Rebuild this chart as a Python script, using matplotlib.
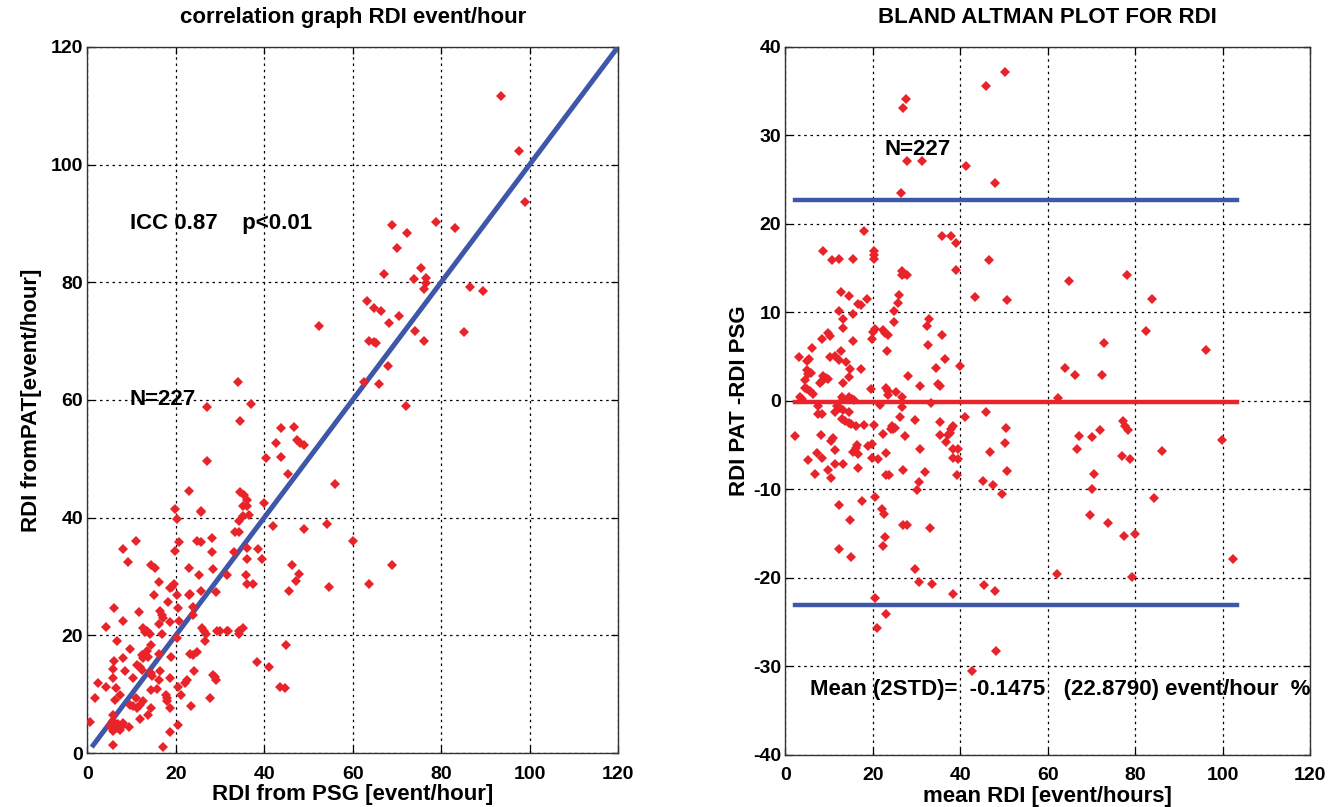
import matplotlib
matplotlib.use("Agg")
import matplotlib.pyplot as plt
import numpy as np

plt.rcParams['font.family'] = ['Liberation Sans', 'DejaVu Sans']
plt.rcParams['font.weight'] = 'bold'
plt.rcParams['axes.unicode_minus'] = False

# ---------------- data: correlation graph ----------------
psg = [23.1, 19.9, 20.2, 25.7, 34.6, 35.5, 36.2, 35.1, 36.2, 39.9, 36.5, 35.3, 34.2, 42.1, 33.3, 34.4,
       11.1, 8.1, 9.3, 20.8, 19.9, 24.9, 25.7, 28.1, 28.3, 33.1, 36.2, 38.7, 39.6, 36.0, 14.5, 15.2,
       22.9, 28.5, 25.3, 31.5, 35.8, 16.1, 36.2, 37.4, 19.5, 19.2, 18.8, 15.0, 20.2, 22.9, 23.3, 25.6,
       29.2, 18.2, 20.4, 24.0, 6.1, 11.8, 16.5, 17.0, 17.2, 8.1, 16.1, 18.8, 20.8, 23.8, 4.3, 12.7,
       13.5, 13.1, 14.1, 17.0, 20.3, 26.0, 26.3, 26.9, 29.4, 30.1, 31.5, 31.9, 34.4, 35.1, 34.2, 26.5,
       6.8, 14.5, 9.7, 13.5, 12.4, 12.7, 13.8, 16.3, 19.0, 23.3, 24.0, 24.7, 6.1, 8.1, 11.3, 12.0,
       12.4, 38.3, 41.0, 5.9, 8.6, 14.3, 14.7, 16.5, 16.1, 18.8, 24.2, 10.4, 5.7, 28.5, 28.8, 29.0,
       22.6, 22.2, 2.5, 4.3, 6.6, 14.5, 15.8, 20.4, 43.5, 44.8, 7.5, 10.9, 9.7, 10.4, 1.8, 6.3,
       12.7, 12.0, 11.3, 17.7, 18.1, 18.1, 14.3, 21.1, 27.8, 18.8, 23.5, 13.8, 12.0, 5.9, 5.7, 6.3,
       7.0, 7.5, 6.8, 5.2, 5.9, 7.9, 8.1, 9.5, 0.5, 20.4, 18.8, 5.7, 17.2,
       34.1, 27.1, 37.1, 34.6, 43.9, 46.7, 42.6, 47.5, 48.2, 48.9, 40.3, 43.9, 27.1, 45.3, 56.1, 25.6,
       49.1, 54.3, 60.0, 68.8, 46.2, 47.8, 47.3, 45.5, 54.6, 63.8, 45.0,
       93.5, 97.6, 98.9, 69.0, 78.8, 83.1, 72.4, 70.0, 67.0, 75.4, 73.8, 76.7, 76.5, 76.1, 86.5, 89.4,
       63.2, 64.8, 66.3, 70.4, 68.2, 74.0, 85.1, 76.1, 63.8, 64.8, 65.2, 67.9, 62.5, 65.9, 72.0, 52.4]
pat = [44.6, 41.4, 39.8, 41.2, 44.4, 43.8, 43.0, 42.0, 41.9, 42.5, 40.5, 40.2, 39.5, 38.6, 37.6, 37.5,
       36.1, 34.6, 32.5, 35.8, 34.4, 36.1, 35.9, 36.6, 34.2, 34.2, 34.9, 34.6, 32.9, 33.0, 31.9, 31.5,
       31.5, 31.2, 30.2, 30.3, 30.2, 29.1, 28.8, 28.7, 28.8, 28.3, 28.0, 26.8, 26.8, 26.8, 27.1, 27.6,
       27.3, 25.6, 24.7, 24.9, 24.6, 23.9, 24.1, 23.4, 22.9, 22.4, 22.0, 22.2, 22.5, 23.4, 21.5, 21.3,
       20.8, 20.5, 20.3, 20.3, 19.6, 21.2, 20.7, 20.2, 20.8, 20.7, 20.7, 20.7, 20.8, 21.3, 20.2, 19.0,
       19.0, 18.3, 17.6, 17.3, 16.6, 16.1, 16.4, 16.8, 16.3, 16.9, 16.6, 17.1, 15.6, 16.1, 14.9, 14.7,
       14.1, 15.4, 14.7, 14.2, 13.9, 13.6, 13.1, 13.9, 12.4, 12.7, 13.9, 12.7, 12.7, 13.2, 12.9, 12.4,
       12.4, 11.9, 11.9, 11.2, 11.0, 10.7, 10.8, 11.2, 11.2, 11.0, 9.8, 9.3, 8.1, 8.0, 9.3, 9.0,
       8.8, 8.1, 7.6, 9.8, 9.3, 8.8, 7.6, 9.8, 9.3, 7.6, 8.0, 6.4, 5.8, 6.4, 5.4, 4.7,
       4.9, 3.9, 4.2, 4.6, 3.7, 4.6, 5.1, 4.4, 5.3, 4.7, 3.6, 1.4, 1.0,
       63.1, 58.8, 59.3, 56.4, 55.2, 55.4, 52.7, 53.2, 52.7, 52.4, 50.2, 50.3, 49.7, 47.5, 45.8, 41.0,
       38.1, 39.0, 36.1, 31.9, 32.0, 30.5, 29.2, 27.6, 28.3, 28.8, 18.3,
       111.7, 102.4, 93.7, 89.7, 90.2, 89.3, 88.3, 85.8, 81.4, 82.5, 80.5, 80.7, 79.8, 78.8, 79.2, 78.6,
       76.8, 75.6, 75.1, 74.2, 73.1, 71.7, 71.5, 70.0, 70.0, 69.8, 69.7, 65.8, 63.0, 62.7, 59.0, 72.5]
fit_x = [1.0, 120.0]          # identity line end points
fit_y = [1.0, 120.0]

# ---------------- data: Bland-Altman ----------------
mean_rdi = [50.2, 46.0, 27.6, 27.0, 27.8, 31.3, 41.3, 48.0, 26.5, 18.1, 35.9, 37.8, 39.0, 8.7, 10.8, 12.3,
            15.4, 20.3, 20.4, 20.3, 46.5, 26.8, 27.2, 27.8, 26.6, 39.0, 12.7, 14.5, 26.0, 43.5, 18.6, 50.6,
            16.7, 17.3, 25.7, 12.4, 24.9, 13.3, 15.4, 24.9, 32.8, 13.3, 32.5, 20.5, 20.0, 19.8, 22.3, 22.8,
            23.4, 9.7, 10.3, 35.9, 8.4, 15.4, 6.1, 32.7, 12.8, 23.2, 3.2, 10.3, 11.3, 5.0, 5.5, 12.2,
            13.9, 36.5, 40.0, 5.0, 5.9, 5.3, 14.8, 17.3, 34.5, 28.0, 8.7, 9.4, 9.9, 4.6, 14.7, 8.4,
            8.0, 13.3, 30.8, 35.0, 35.5, 4.6, 5.0, 5.7, 6.3, 19.6, 23.0, 23.4, 23.6, 25.3, 3.4, 3.8,
            12.9, 13.3, 15.2, 15.8, 14.5, 26.6, 33.3, 21.7, 7.6, 11.8, 12.6, 13.3, 26.6, 7.4, 8.4, 11.3,
            14.5, 41.1, 46.0, 26.3, 12.9, 13.7, 14.5, 15.1, 16.1, 18.0, 20.4, 29.7, 35.5, 24.4, 24.7, 25.1,
            24.1, 38.4, 38.0, 37.7, 37.3, 50.5, 2.3, 8.2, 22.4, 27.4, 35.4, 10.9, 10.4, 36.8, 50.2, 16.5,
            16.2, 19.0, 19.8, 11.4, 30.8, 38.4, 39.6, 15.6, 16.7, 7.2, 23.1, 46.8, 19.9, 21.3, 38.4, 39.6,
            8.4, 5.2, 11.4, 13.3, 16.7, 9.7, 26.9, 32.0, 6.8, 23.1, 23.8, 39.3, 10.4, 30.6, 30.2, 45.3,
            47.6, 49.5, 20.5, 12.4, 17.5, 22.1, 22.6, 14.9, 26.9, 27.8, 33.1, 22.8, 22.4, 12.4, 15.1, 29.7,
            30.6, 33.6, 38.4, 45.5, 48.0, 20.5, 23.1, 20.9, 48.2, 42.8, 50.8,
            64.9, 78.2, 83.8, 82.4, 72.8, 96.2, 64.0, 66.2, 72.5, 62.3, 77.3, 77.7, 78.4, 72.0, 70.2, 67.2,
            66.6, 99.9, 86.1, 77.1, 78.8, 70.6, 70.1, 84.3, 69.7, 73.9, 77.5, 80.0, 102.4, 62.1, 79.2]
diff_rdi = [37.2, 35.6, 34.1, 33.1, 27.1, 27.1, 26.6, 24.6, 23.5, 19.2, 18.6, 18.6, 17.8, 16.9, 15.9, 16.0,
            16.0, 16.9, 16.5, 16.0, 15.9, 14.7, 14.4, 14.2, 14.2, 14.8, 12.3, 11.9, 12.0, 11.8, 11.5, 11.4,
            11.0, 10.8, 11.1, 10.2, 10.2, 9.3, 9.8, 8.9, 9.3, 8.2, 8.5, 8.1, 7.8, 7.0, 8.0, 7.7,
            7.4, 7.7, 7.3, 7.4, 7.0, 6.8, 6.0, 6.3, 5.6, 5.6, 5.0, 5.0, 5.1, 4.5, 4.7, 4.6,
            4.4, 4.7, 4.0, 3.5, 3.2, 3.0, 3.6, 3.6, 3.7, 2.8, 2.8, 2.6, 2.5, 2.4, 2.7, 2.2,
            2.0, 2.0, 1.7, 1.9, 1.7, 1.5, 1.3, 1.1, 0.8, 1.3, 1.5, 1.1, 0.7, 1.0, 0.4, 0.2,
            0.5, 0.2, 0.2, 0.1, 0.4, 0.4, -0.2, -0.5, -0.6, -0.6, -0.8, -1.0, -0.7, -1.5, -1.5, -1.3,
            -1.3, -1.8, -1.3, -1.8, -2.0, -2.3, -2.5, -2.6, -2.8, -2.7, -2.7, -2.2, -2.4, -2.8, -3.2, -3.0,
            -3.2, -2.8, -3.2, -3.6, -3.8, -3.0, -4.0, -3.8, -3.7, -4.0, -3.8, -4.2, -4.5, -4.6, -4.7, -5.0,
            -5.3, -5.1, -4.9, -5.5, -5.4, -5.4, -5.4, -5.8, -6.0, -5.9, -5.9, -5.8, -6.4, -6.6, -6.4, -6.6,
            -6.5, -6.7, -7.1, -7.1, -7.6, -7.8, -7.8, -8.0, -8.3, -8.4, -8.4, -8.4, -8.7, -9.2, -10.1, -9.1,
            -9.5, -10.5, -10.9, -11.7, -11.3, -12.2, -12.8, -13.4, -14.0, -14.0, -14.4, -15.4, -16.4, -16.7, -17.6, -19.0,
            -20.5, -20.7, -21.8, -20.8, -21.5, -22.3, -24.1, -25.7, -28.2, -30.5, -7.9,
            13.5, 14.2, 11.5, 7.9, 6.5, 5.8, 3.7, 2.9, 2.9, 0.3, -2.3, -2.8, -3.3, -3.3, -4.1, -4.0,
            -5.4, -4.4, -5.6, -6.2, -6.6, -8.2, -10.0, -11.0, -12.9, -13.8, -15.3, -15.0, -17.9, -19.6, -19.9]
mean_diff = -0.1475
two_std = 22.8790

ticks_left = [0, 20, 40, 60, 80, 100, 120]
ticks_right_x = [0, 20, 40, 60, 80, 100, 120]
ticks_right_y = [-40, -30, -20, -10, 0, 10, 20, 30, 40]

RED = '#E8232A'
BLUE = '#3F57A8'
FS_TICK = 14
FS = 16

fig = plt.figure(figsize=(13.33, 8.07), dpi=100)
ax1 = fig.add_axes([0.0655, 0.0669, 0.3981, 0.8749])
ax2 = fig.add_axes([0.589, 0.0645, 0.3939, 0.8773])

def style(ax):
    ax.grid(True, color='black', linestyle=(0, (2, 3)), linewidth=0.9)
    ax.set_axisbelow(True)
    ax.tick_params(direction='in', length=5, width=0.9, top=True, right=True,
                   labelsize=FS_TICK, pad=3)
    ax.tick_params(axis='x', pad=9)
    for lab in ax.get_xticklabels() + ax.get_yticklabels():
        lab.set_fontweight('bold')
    for s in ax.spines.values():
        s.set_linewidth(1.0)
        s.set_color('#333333')

# Left: correlation
ax1.plot(fit_x, fit_y, color=BLUE, linewidth=3.6, solid_capstyle='butt', zorder=3)
ax1.plot(psg, pat, linestyle='none', marker='D', markersize=4.8, color=RED,
         markeredgewidth=0, zorder=4)
ax1.set_xlim(0, 120)
ax1.set_ylim(0, 120)
ax1.set_xticks(ticks_left)
ax1.set_yticks(ticks_left)
style(ax1)
ax1.set_title('correlation graph RDI event/hour', fontsize=FS, fontweight='bold', pad=17)
ax1.set_xlabel('RDI from PSG [event/hour]', fontsize=FS, fontweight='bold', labelpad=1)
ax1.set_ylabel('RDI fromPAT[event/hour]', fontsize=FS, fontweight='bold', labelpad=6)
ax1.text(9.6, 90, 'ICC 0.87    p<0.01', fontsize=FS, fontweight='bold', va='center')
ax1.text(9.6, 60, 'N=227', fontsize=FS, fontweight='bold', va='center')

# Right: Bland-Altman
x0, x1 = min(mean_rdi), max(mean_rdi) + 0.8
ax2.plot([x0, x1], [mean_diff + two_std] * 2, color=BLUE, linewidth=3.2, zorder=3)
ax2.plot([x0, x1], [mean_diff - two_std] * 2, color=BLUE, linewidth=3.2, zorder=3)
ax2.plot([x0, x1], [mean_diff] * 2, color=RED, linewidth=3.2, zorder=3)
ax2.plot(mean_rdi, diff_rdi, linestyle='none', marker='D', markersize=4.8, color=RED,
         markeredgewidth=0, zorder=4)
ax2.set_xlim(0, 120)
ax2.set_ylim(-40, 40)
ax2.set_xticks(ticks_right_x)
ax2.set_yticks(ticks_right_y)
style(ax2)
ax2.set_title('BLAND ALTMAN PLOT FOR RDI', fontsize=FS, fontweight='bold', pad=17)
ax2.set_xlabel('mean RDI [event/hours]', fontsize=FS, fontweight='bold', labelpad=1)
ax2.set_ylabel('RDI PAT -RDI PSG', fontsize=FS, fontweight='bold', labelpad=2)
ax2.text(22.8, 28.4, 'N=227', fontsize=FS, fontweight='bold', va='center')
ax2.text(5.7, -32.6, 'Mean (2STD)=  -0.1475   (22.8790) event/hour  %',
         fontsize=FS, fontweight='bold', va='center', clip_on=False)

fig.savefig('out.png', dpi=100)
